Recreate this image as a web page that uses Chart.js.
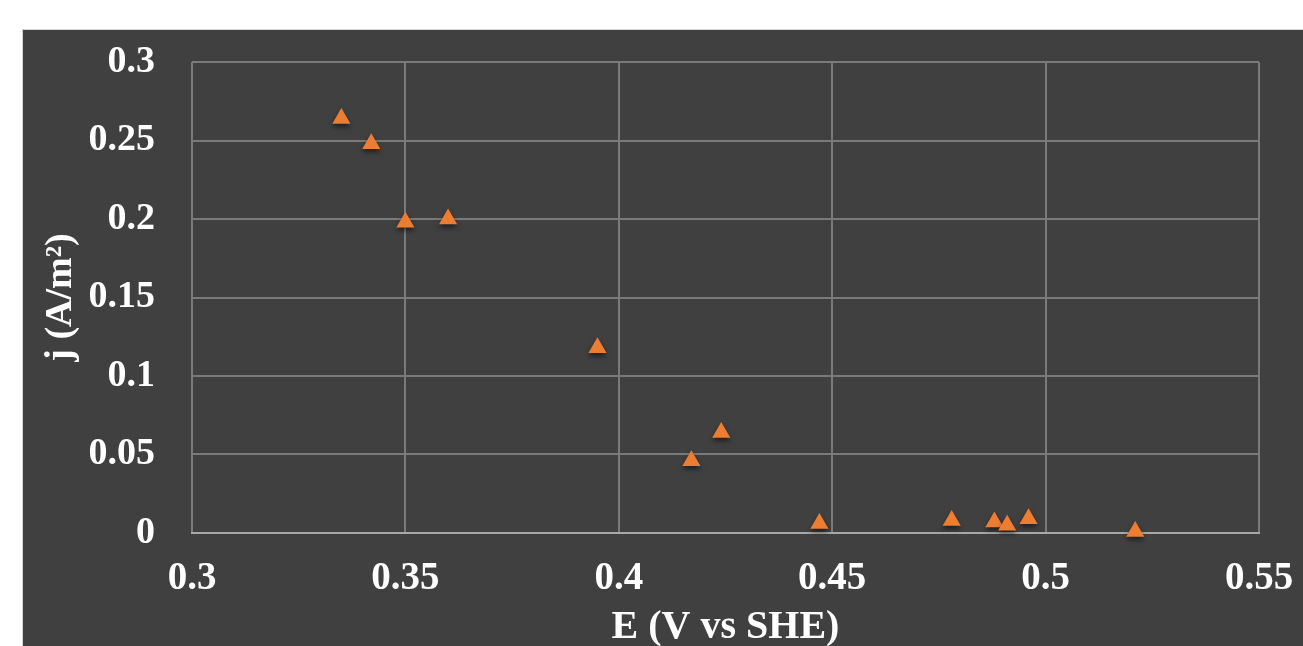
<!DOCTYPE html>
<html lang="en">
<head>
    <meta charset="UTF-8">
    <title>j vs E</title>
    <script src="https://cdn.jsdelivr.net/npm/chart.js"></script>
    <style>
        html, body { margin: 0; padding: 0; background: #ffffff; overflow: hidden; }
        /* fundo escuro do gráfico */
        .fundo {
            position: absolute;
            left: 22px; top: 29px;
            width: 1290px; height: 630px;
            background: #404040;
            border-left: 1px solid #d4d4d4;
            border-top: 1px solid #d4d4d4;
        }
        #grafico { position: absolute; left: 0; top: 0; }
    </style>
</head>
<body>
    <div class="fundo"></div>
    <canvas id="grafico" width="1303" height="646"></canvas>

    <script>
        // Potencial (V vs SHE)
        const potencial = [0.335, 0.342, 0.350, 0.360, 0.395, 0.417, 0.424, 0.447, 0.478, 0.488, 0.491, 0.496, 0.521];
        // Densidade de corrente (A/m2)
        const corrente = [0.264, 0.248, 0.198, 0.200, 0.118, 0.046, 0.064, 0.006, 0.008, 0.007, 0.005, 0.009, 0.001];

        const ticksX = [0.3, 0.35, 0.4, 0.45, 0.5, 0.55];
        const ticksY = [0, 0.05, 0.1, 0.15, 0.2, 0.25, 0.3];

        const fonte = { family: "'Liberation Serif', 'Times New Roman', serif", weight: 'bold' };

        // sombra dos marcadores
        const sombra = {
            id: 'sombra',
            beforeDatasetsDraw(chart) {
                const ctx = chart.ctx;
                ctx.save();
                ctx.shadowColor = 'rgba(0,0,0,0.55)';
                ctx.shadowBlur = 5;
                ctx.shadowOffsetX = 0;
                ctx.shadowOffsetY = 3;
            },
            afterDatasetsDraw(chart) {
                chart.ctx.restore();
            }
        };

        const ctx = document.getElementById('grafico').getContext('2d');
        new Chart(ctx, {
            type: 'scatter',
            data: {
                datasets: [{
                    data: potencial.map((e, i) => ({ x: e, y: corrente[i] })),
                    pointStyle: 'triangle',
                    pointRadius: 10.5,
                    pointHoverRadius: 10.5,
                    backgroundColor: '#ED7D31',
                    borderColor: '#ED7D31',
                    borderWidth: 0,
                    clip: false
                }]
            },
            plugins: [sombra],
            options: {
                responsive: false,
                animation: false,
                layout: { padding: { top: 62, right: 44, left: 0, bottom: 0 } },
                plugins: { legend: { display: false }, tooltip: { enabled: false } },
                scales: {
                    x: {
                        type: 'linear',
                        min: 0.3,
                        max: 0.55,
                        afterBuildTicks: s => { s.ticks = ticksX.map(v => ({ value: v })); },
                        afterFit: s => { s.height = 113; s.paddingLeft = 0; s.paddingRight = 0; },
                        grid: { color: '#7a7a7a', lineWidth: 2, drawTicks: false },
                        border: { color: '#a8a8a8', width: 2 },
                        ticks: {
                            color: '#ffffff',
                            padding: 23,
                            maxRotation: 0,
                            font: { ...fonte, size: 39 },
                            callback: v => String(Number(v.toFixed(2)))
                        },
                        title: {
                            display: true,
                            text: 'E (V vs SHE)',
                            color: '#ffffff',
                            padding: 0,
                            font: { ...fonte, size: 40, lineHeight: 0.9 }
                        }
                    },
                    y: {
                        type: 'linear',
                        min: 0,
                        max: 0.3,
                        afterBuildTicks: s => { s.ticks = ticksY.map(v => ({ value: v })); },
                        afterFit: s => { s.width = 192; s.paddingTop = 0; s.paddingBottom = 0; },
                        grid: { color: '#7a7a7a', lineWidth: 2, drawTicks: false },
                        border: { display: false },
                        ticks: {
                            color: '#ffffff',
                            padding: 37,
                            font: { ...fonte, size: 38 },
                            callback: v => String(Number(v.toFixed(2)))
                        },
                        title: {
                            display: true,
                            text: 'j (A/m²)',
                            color: '#ffffff',
                            padding: { top: 42, bottom: 0 },
                            font: { ...fonte, size: 38, lineHeight: 1 }
                        }
                    }
                }
            }
        });
    </script>
</body>
</html>
